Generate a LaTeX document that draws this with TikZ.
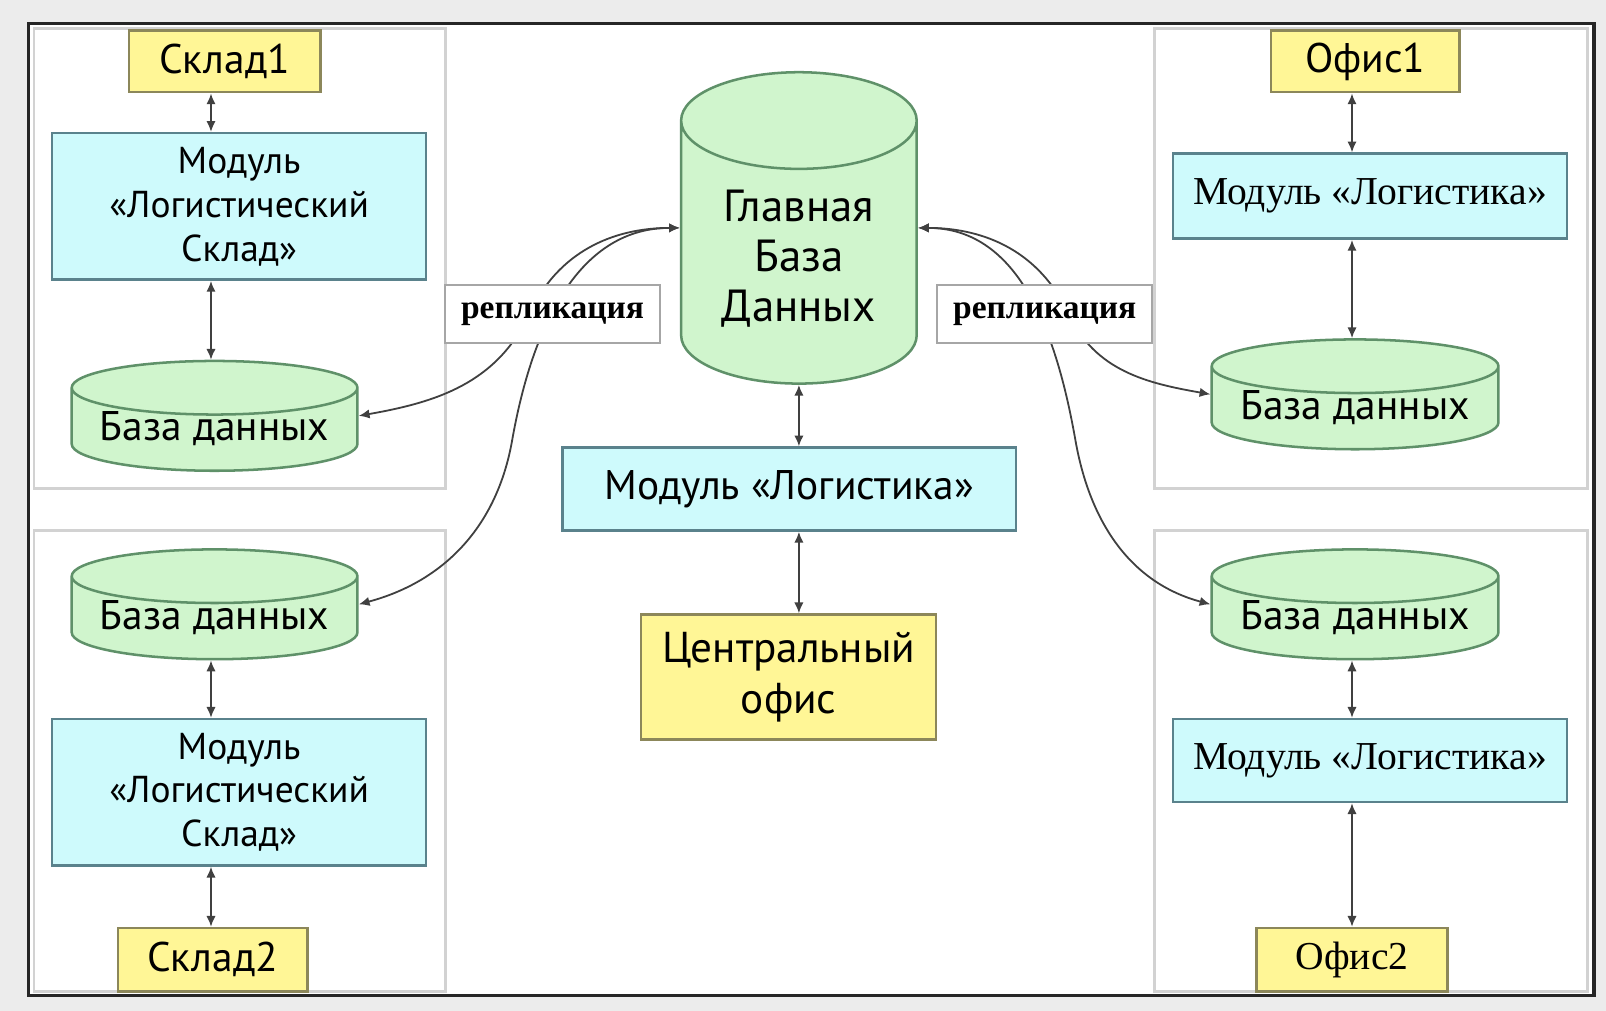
\documentclass[tikz,border=0pt]{standalone}
\usepackage{fontspec}
\setmainfont{PT Sans}
\newfontfamily\serifru{Liberation Serif}
\usetikzlibrary{shapes.geometric,arrows.meta}

\definecolor{fonGray}{RGB}{236,236,236}
\definecolor{zheltyj}{RGB}{255,246,150}
\definecolor{zheltyjB}{RGB}{140,135,90}
\definecolor{goluboj}{RGB}{206,250,252}
\definecolor{golubojB}{RGB}{90,130,140}
\definecolor{zelenyj}{RGB}{208,245,205}
\definecolor{zelenyjB}{RGB}{95,145,105}

\begin{document}
\begin{tikzpicture}[
  sklad/.style={draw=zheltyjB, fill=zheltyj, line width=0.7pt, inner sep=1pt, font=\fontsize{11.5}{14}\selectfont},
  modul/.style={draw=golubojB, fill=goluboj, line width=0.7pt, align=center, inner sep=1pt, font=\fontsize{10.4}{12.2}\selectfont},
  baza/.style={cylinder, shape border rotate=90, draw=zelenyjB, fill=zelenyj, line width=0.7pt, inner sep=1pt, anchor=shape center, font=\fontsize{11.5}{14}\selectfont},
  malbaza/.style={baza, minimum width=2.79cm, aspect=0.23, inner sep=0.5pt, text height=6.5pt, text depth=1.5pt},
  repl/.style={draw=gray!70, fill=white, line width=0.6pt, font=\serifru\bfseries\fontsize{9.3}{12}\selectfont, minimum width=2.1cm, minimum height=0.57cm},
  panel/.style={draw=gray!35, line width=0.7pt},
  link/.style={black!75, line width=0.5pt, {Latex[length=3pt,width=2.6pt]}-{Latex[length=3pt,width=2.6pt]}}
]
\useasboundingbox (0,0) rectangle (15.68,-9.87);
\fill[fonGray] (0,0) rectangle (15.68,-9.87);
\draw[black!85, line width=1pt, fill=white] (0.28,-0.23) rectangle (15.56,-9.72);

% four panels
\draw[panel] (0.33,-0.28) rectangle (4.35,-4.77);
\draw[panel] (0.33,-5.18) rectangle (4.35,-9.68);
\draw[panel] (11.27,-0.28) rectangle (15.50,-4.77);
\draw[panel] (11.27,-5.18) rectangle (15.50,-9.68);

\coordinate (colL) at (2.06,0);
\coordinate (colC) at (7.80,0);
\coordinate (colR) at (13.20,0);

% left side
\node[sklad, minimum width=1.87cm, minimum height=0.60cm] (sk1) at (2.195,-0.60) {Склад1};
\node[modul, minimum width=3.65cm, minimum height=1.43cm] (modA) at (2.335,-2.015) {Модуль\\«Логистический\\Склад»};
\node[malbaza] (dbA) at (2.095,-4.06) {База данных};
\node[malbaza] (dbB) at (2.095,-5.90) {База данных};
\node[modul, minimum width=3.65cm, minimum height=1.43cm] (modB) at (2.335,-7.735) {Модуль\\«Логистический\\Склад»};
\node[sklad, minimum width=1.85cm, minimum height=0.62cm] (sk2) at (2.075,-9.37) {Склад2};

% centre
\node[baza, minimum width=2.30cm, minimum height=3.04cm, aspect=0.60, font=\fontsize{12.5}{14}\selectfont, align=center] (mdb) at (7.80,-2.225) {Главная\\База\\Данных};
\node[modul, minimum width=4.43cm, minimum height=0.81cm, font=\fontsize{11.5}{13}\selectfont] (modC) at (7.705,-4.775) {Модуль «Логистика»};
\node[sklad, minimum width=2.88cm, minimum height=1.22cm, align=center, font=\fontsize{12}{14}\selectfont] (cof) at (7.70,-6.61) {Центральный\\офис};

% right side
\node[sklad, minimum width=1.84cm, minimum height=0.60cm] (of1) at (13.33,-0.60) {Офис1};
\node[modul, minimum width=3.85cm, minimum height=0.83cm, font=\serifru\fontsize{11}{13}\selectfont] (modR1) at (13.375,-1.915) {Модуль «Логистика»};
\node[malbaza, minimum width=2.80cm] (dbR1) at (13.23,-3.85) {База данных};
\node[malbaza, minimum width=2.80cm] (dbR2) at (13.23,-5.90) {База данных};
\node[modul, minimum width=3.85cm, minimum height=0.81cm, font=\serifru\fontsize{11}{13}\selectfont] (modR2) at (13.375,-7.425) {Модуль «Логистика»};
\node[sklad, minimum width=1.86cm, minimum height=0.62cm, font=\serifru\fontsize{11}{13}\selectfont] (of2) at (13.20,-9.37) {Офис2};

\coordinate (mdbL) at (mdb.shape center -| mdb.west);
\coordinate (mdbR) at (mdb.shape center -| mdb.east);

% vertical links
\draw[link] (sk1.south -| colL) -- (modA.north -| colL);
\draw[link] (modA.south -| colL) -- (dbA.north -| colL);
\draw[link] (dbB.south -| colL) -- (modB.north -| colL);
\draw[link] (modB.south -| colL) -- (sk2.north -| colL);
\draw[link] (mdb.south -| colC) -- (modC.north -| colC);
\draw[link] (modC.south -| colC) -- (cof.north -| colC);
\draw[link] (of1.south -| colR) -- (modR1.north -| colR);
\draw[link] (modR1.south -| colR) -- (dbR1.north -| colR);
\draw[link] (dbR2.south -| colR) -- (modR2.north -| colR);
\draw[link] (modR2.south -| colR) -- (of2.north -| colR);

% replication (the bends sit under the labels)
\coordinate (cA) at (5.17,-3.06);
\coordinate (cR) at (10.43,-3.06);
\coordinate (cvL) at (5.00,-4.30);
\coordinate (cvR) at (10.50,-4.30);
\draw[link] (dbA.shape center -| dbA.east) to[out=10,in=245] (cA) to[out=65,in=180] (mdbL);
\draw[link] (dbB.shape center -| dbB.east) to[out=15,in=-100] (cvL) to[out=80,in=180] (mdbL);
\draw[link] (dbR1.shape center -| dbR1.west) to[out=170,in=-65] (cR) to[out=115,in=0] (mdbR);
\draw[link] (dbR2.shape center -| dbR2.west) to[out=165,in=-80] (cvR) to[out=100,in=0] (mdbR);
\node[repl] (replL) at (5.395,-3.065) {репликация};
\node[repl] (replR) at (10.20,-3.065) {репликация};
\end{tikzpicture}
\end{document}
